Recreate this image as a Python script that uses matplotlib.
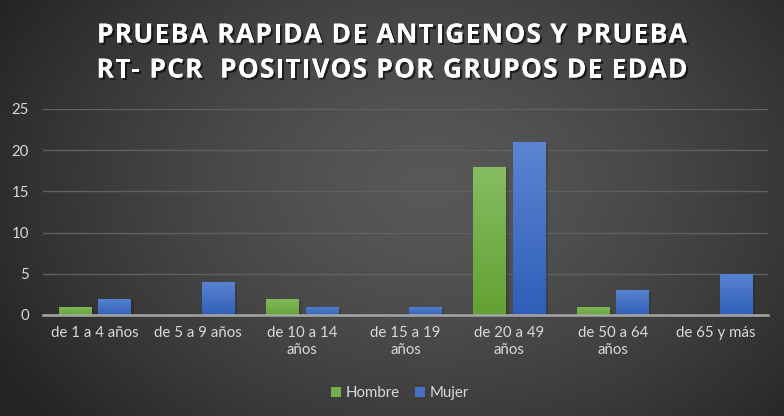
import numpy as np
import matplotlib
matplotlib.use("Agg")
import matplotlib.pyplot as plt
import matplotlib.patheffects as pe
from matplotlib.colors import LinearSegmentedColormap
from matplotlib.font_manager import FontProperties
from matplotlib.patches import Patch

categories = ["de 1 a 4 años", "de 5 a 9 años", "de 10 a 14\naños", "de 15 a 19\naños",
              "de 20 a 49\naños", "de 50 a 64\naños", "de 65 y más"]
hombre = [1, 0, 2, 0, 18, 1, 0]
mujer = [2, 4, 1, 1, 21, 3, 5]
series_names = ["Hombre", "Mujer"]
yticks = [0, 5, 10, 15, 20, 25]
title_lines = ["PRUEBA RAPIDA DE ANTIGENOS Y PRUEBA", "RT- PCR  POSITIVOS POR GRUPOS DE EDAD"]

W, H = 784, 416
fig = plt.figure(figsize=(W / 100, H / 100), dpi=100)

# radial gradient background
bg = fig.add_axes([0, 0, 1, 1])
yy, xx = np.mgrid[0:H, 0:W]
cx, cy = W * 0.55, H * 0.45
r = np.sqrt(((xx - cx) / (W * 0.62)) ** 2 + ((yy - cy) / (H * 0.85)) ** 2)
r = np.clip(r, 0, 1)
inner, outer = 0x58 / 255, 0x26 / 255
val = inner + (outer - inner) * r ** 1.4
bg.imshow(np.dstack([val, val, val]), extent=[0, 1, 0, 1], aspect="auto", origin="upper")
bg.axis("off")

font = "Lato"
ax = fig.add_axes([43 / W, 1 - 315 / H, (768 - 43) / W, (315 - 109) / H])
ax.patch.set_alpha(0)
x = np.arange(len(categories))
bw = 0.31
off = 0.19
b1 = ax.bar(x - off, hombre, bw, facecolor="none", edgecolor="none", lw=0, zorder=3)
b2 = ax.bar(x + off, mujer, bw, facecolor="none", edgecolor="none", lw=0, zorder=3)

gcm = LinearSegmentedColormap.from_list("g", ["#62a132", "#86bd63"])
bcm = LinearSegmentedColormap.from_list("b", ["#2e5eb7", "#5c86d3"])
grad = np.linspace(0, 1, 256).reshape(-1, 1)
for bars, cm in ((b1, gcm), (b2, bcm)):
    for p in bars:
        h = p.get_height()
        if h <= 0:
            continue
        x0 = p.get_x()
        w = p.get_width()
        ax.add_patch(plt.Rectangle((x0 + 0.03, 0), w, max(h - 0.25, 0), color="black", alpha=0.14,
                                   zorder=2, lw=0))
        im = ax.imshow(grad, extent=[x0 - 0.02, x0 + w + 0.02, -0.3, h + 0.3], origin="lower",
                       aspect="auto", cmap=cm, zorder=4, vmin=0, vmax=1, interpolation="bilinear")
        im.set_clip_path(p)
ax.set_xlim(-0.5, len(categories) - 0.5)
ax.set_ylim(0, 25)
ax.set_yticks(yticks)
ax.set_xticks(x)
ax.set_xticklabels(categories, fontsize=10.8, color="#d9d9d9", family=font, linespacing=1.3)
ax.set_yticklabels([str(v) for v in yticks], fontsize=10.8, color="#d9d9d9", family=font)
ax.tick_params(axis="both", length=0, pad=8)
ax.tick_params(axis="y", pad=10)
ax.grid(axis="y", color="#606060", lw=1, zorder=0)
for s in ["top", "right", "left"]:
    ax.spines[s].set_visible(False)
ax.spines["bottom"].set_color("#a6a6a6")
ax.spines["bottom"].set_linewidth(1.8)
ax.spines["bottom"].set_zorder(5)

handles = [Patch(facecolor="#72b04a"), Patch(facecolor="#4472c4")]
leg = fig.legend(handles=handles, labels=series_names, loc="center", bbox_to_anchor=(400 / W, 1 - 393 / H),
                 ncol=2, frameon=False, handlelength=0.7, handleheight=0.7,
                 handletextpad=0.3, columnspacing=1.0, prop={"family": font, "size": 10.8})
for t in leg.get_texts():
    t.set_color("#d9d9d9")

# title with letter spacing
fp = FontProperties(family="Open Sans", weight="bold", size=19)
renderer = fig.canvas.get_renderer()
def char_w(ch):
    if ch == " ":
        w, _, _ = renderer.get_text_width_height_descent("a a", fp, ismath=False)
        w2, _, _ = renderer.get_text_width_height_descent("aa", fp, ismath=False)
        return w - w2
    w, _, _ = renderer.get_text_width_height_descent(ch, fp, ismath=False)
    return w
target = 590
ws0 = [char_w(c) for c in title_lines[0]]
track = (target - sum(ws0)) / (len(title_lines[0]) - 1)
shadow = [pe.withSimplePatchShadow(offset=(1.5, -1.5), shadow_rgbFace="black", alpha=0.6), pe.Normal()]
for line, yc in zip(title_lines, [35, 70]):
    ws = [char_w(c) for c in line]
    total = sum(ws) + track * (len(line) - 1)
    xp = 392 - total / 2
    for c, w in zip(line, ws):
        if c != " ":
            fig.text(xp / W, 1 - yc / H, c, ha="left", va="center", color="white",
                     fontproperties=fp, path_effects=shadow)
        xp += w + track

fig.savefig("out.png", dpi=100)
